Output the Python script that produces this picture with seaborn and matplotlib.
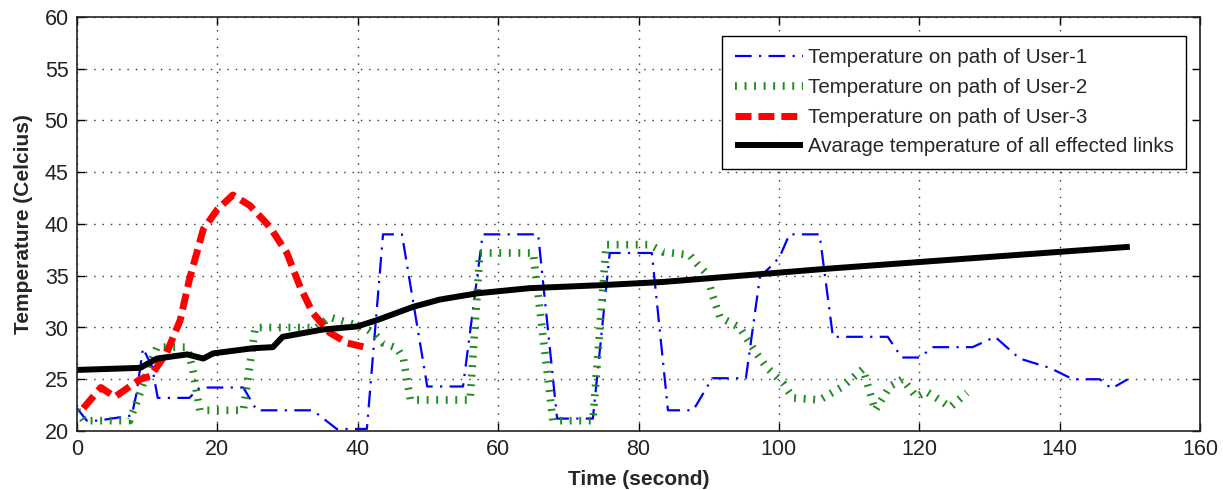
import matplotlib
matplotlib.use("Agg")
import matplotlib.pyplot as plt
import seaborn as sns
import pandas as pd

# ---- data ----
user1_x = [0, 1.4, 3, 7.8, 8.5, 9.4, 10.7, 11.5, 16, 17.5, 23.7, 25.6, 33.6, 37, 41.3, 43.6, 46.3,
           49.9, 55, 57.8, 65.7, 68.4, 73.5, 75.9, 81.9, 84.2, 87.8, 90.5, 95.3, 97.3, 98.7, 100.1,
           101.5, 105.8, 107.7, 115.5, 117.5, 120, 122, 127.6, 130.8, 134.3, 138.6, 141.9, 145.7,
           147.4, 149.7]
user1_y = [22.2, 21, 21, 21.5, 23.7, 28, 26.2, 23.2, 23.2, 24.2, 24.2, 22, 22, 20.2, 20.2, 39, 39,
           24.3, 24.3, 39, 39, 21.2, 21.2, 37.2, 37.2, 22, 22, 25.1, 25.1, 34.9, 35.8, 36.8,
           39, 39, 29.1, 29.1, 27.1, 27.1, 28.1, 28.1, 29.1, 27, 26.1, 25, 25,
           24.1, 25]

user2_x = [0, 1, 7.5, 9, 10.1, 11.4, 15.7, 16.5, 17.5, 23.7, 25.4, 34.2, 36, 38.5, 41, 42.5, 43.6,
           45.6, 46.5, 47, 47.5, 56, 57.4, 65, 67.8, 73.5, 75.4, 81.6, 83.5, 87.3, 88.3, 89.7, 90.6,
           91.6, 94.4, 96.8, 98.2, 100.6, 102, 105.8, 109.1, 112, 113.7, 115.8, 117.6, 119.6, 121,
           122.9, 124.4, 126.8]
user2_y = [22, 21, 21, 23.7, 25.9, 28.1, 28.1, 25.9, 22, 22, 30, 30, 31, 30.5, 30, 29.3, 28.5,
           28, 27, 25, 23, 23, 37.2, 37.2, 21, 21, 38, 38, 37.3, 37, 36.2, 35.2, 33,
           31, 30, 27.5, 26.2, 24.6, 23.2, 23, 24.3, 26, 22, 24.3, 25, 23.3, 23.8,
           23, 22.3, 23.7]

user3_x = [0.9, 3.4, 5.4, 9, 10.5, 12.8, 14.7, 16, 18, 20, 22.2, 24.6, 27.5, 29.9, 31.8, 33.6,
           36, 38.5, 41]
user3_y = [22.2, 24.2, 23.3, 25, 25.3, 27.6, 30.7, 34.6, 39.5, 41.4, 42.8, 41.8, 39.7, 37.2, 33.9,
           31.4, 29.5, 28.5, 28.1]

avg_x = [0, 9, 11.4, 15.7, 18, 19.4, 25.1, 27.9, 29.3, 35, 39.9, 42.7, 47.9, 51.7, 57, 64.5, 75,
         83.5, 107.3, 150]
avg_y = [25.9, 26.1, 27, 27.4, 27, 27.5, 28, 28.1, 29.1, 29.8, 30.1, 30.7, 32, 32.7, 33.3, 33.8,
         34.1, 34.4, 35.7, 37.8]

labels = ["Temperature on path of User-1", "Temperature on path of User-2",
          "Temperature on path of User-3", "Avarage temperature of all effected links"]
x_ticks = [0, 20, 40, 60, 80, 100, 120, 140, 160]
y_ticks = [20, 25, 30, 35, 40, 45, 50, 55, 60]

# ---- styling ----
sns.set_theme(style="white")
plt.rcParams['font.family'] = ['Liberation Sans', 'DejaVu Sans']

fig = plt.figure(figsize=(12.23, 4.90), dpi=100)
ax = fig.add_axes([77 / 1223, 1 - 431 / 490, 1123 / 1223, 414 / 490])

series = [
    (user1_x, user1_y, dict(color="#0000ff", lw=1.6, ls=(0, (7.5, 3.3, 1.0, 3.3)))),
    (user2_x, user2_y, dict(color="#1e8c1e", lw=5.5, ls=(0, (0.25, 1.0)))),
    (user3_x, user3_y, dict(color="#ff0000", lw=5.0, ls=(0, (2.3, 1.0)))),
    (avg_x, avg_y, dict(color="#000000", lw=4.3, ls="-")),
]
for (xs, ys, st), lab in zip(series, labels):
    df = pd.DataFrame({"x": xs, "y": ys})
    sns.lineplot(data=df, x="x", y="y", ax=ax, label=lab, sort=False,
                 color=st["color"], linewidth=st["lw"], linestyle=st["ls"],
                 dash_capstyle="butt", solid_capstyle="butt")

ax.set_xlim(0, 160)
ax.set_ylim(20, 60)
ax.set_xticks(x_ticks)
ax.set_yticks(y_ticks)
ax.set_xticklabels([str(t) for t in x_ticks])
ax.set_yticklabels([str(t) for t in y_ticks])
ax.tick_params(direction="in", length=6, width=1, colors="black", labelsize=15.5,
               top=True, right=True, bottom=True, left=True, pad=6)
ax.tick_params(axis="x", labelcolor="#222222")
ax.tick_params(axis="y", labelcolor="#222222")
for sp in ax.spines.values():
    sp.set_color("#222222")
    sp.set_linewidth(1.2)
    sp.set_visible(True)
ax.grid(True, color="#333333", linestyle=(0, (1, 5)), linewidth=1.0)
ax.set_axisbelow(True)

ax.set_xlabel("Time (second)", fontsize=15, fontweight="bold", labelpad=7)
ax.set_ylabel("Temperature (Celcius)", fontsize=15, fontweight="bold", labelpad=8)

leg = ax.legend(loc="upper right", bbox_to_anchor=((1186 - 77) / 1123, 1 - (36 - 17) / 414),
                borderaxespad=0, fontsize=14.8, frameon=True, fancybox=False,
                handlelength=3.3, handletextpad=0.25, labelspacing=0.52,
                borderpad=0.6, edgecolor="black")
leg.get_frame().set_linewidth(1.0)
leg.get_frame().set_alpha(1)

fig.savefig("out.png", dpi=100, facecolor="white")
